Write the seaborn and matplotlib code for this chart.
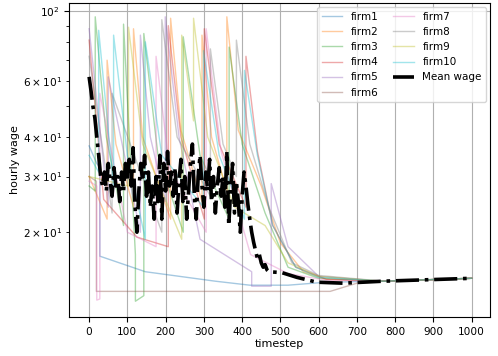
import numpy as np
import pandas as pd
import seaborn as sns
import matplotlib.pyplot as plt
from matplotlib.lines import Line2D

# firm wage paths as (timestep, wage) vertices
firm1_t = [0, 20, 28, 28, 147, 330, 420, 520, 620, 770, 1000]
firm1_w = [37.5, 33, 32, 16.8, 15.0, 14.0, 13.6, 13.6, 13.9, 14.0, 14.3]

firm2_t = [0, 47, 47, 70, 116, 116, 140, 213, 213, 240, 295, 295, 320, 360, 360, 390, 450, 500, 560, 620, 770, 1000]
firm2_w = [30, 22, 70, 38, 24, 88, 40, 22, 95, 42, 25, 84, 40, 27, 96, 42, 28, 18.5, 15, 14.2, 14.0, 14.3]

firm3_t = [0, 16, 16, 45, 90, 90, 121, 121, 143, 143, 180, 246, 246, 290, 366, 366, 400, 460, 520, 600, 770, 1000]
firm3_w = [28, 27, 96, 40, 21, 91, 17, 12.1, 12.6, 85, 35, 20, 83, 35, 22, 77, 38, 23, 15.5, 14.3, 14.0, 14.3]

firm4_t = [0, 38, 125, 207, 207, 240, 301, 301, 340, 410, 410, 440, 480, 540, 620, 770, 1000]
firm4_w = [81, 25.4, 19.3, 18.0, 90, 40, 22, 88, 38, 24, 72, 36, 21, 15.5, 14.2, 14.0, 14.3]

firm5_t = [0, 50, 50, 134, 134, 160, 199, 199, 235, 290, 425, 425, 476, 476, 520, 600, 770, 1000]
firm5_w = [88, 24, 62, 20, 84, 40, 25, 96, 40, 19, 15, 13.5, 13.5, 28.5, 18, 14.5, 14.0, 14.3]

firm6_t = [0, 19, 19, 630, 700, 770, 1000]
firm6_w = [30, 29, 13.0, 13.0, 13.8, 14.0, 14.3]

firm7_t = [0, 20, 20, 28, 28, 100, 175, 175, 210, 306, 306, 345, 422, 520, 620, 770, 1000]
firm7_w = [29, 28, 12.2, 12.3, 55, 20, 18, 72, 32, 20, 88, 36, 17, 14.8, 14.1, 14.0, 14.3]

firm8_t = [0, 60, 60, 190, 190, 230, 317, 317, 350, 385, 385, 420, 470, 530, 600, 770, 1000]
firm8_w = [72, 23, 55, 20, 94, 40, 26, 76, 38, 30, 81, 38, 24, 16, 14.6, 14.0, 14.3]

firm9_t = [0, 103, 103, 140, 242, 242, 273, 273, 310, 380, 460, 520, 600, 770, 1000]
firm9_w = [30, 28, 89, 38, 19, 84, 45, 95, 40, 24, 21, 16, 14.5, 14.0, 14.3]

firm10_t = [0, 25, 25, 64, 64, 100, 147, 147, 190, 299, 299, 340, 406, 406, 440, 480, 540, 600, 770, 1000]
firm10_w = [35, 31, 87, 28, 84, 35, 19, 80, 35, 24, 75, 35, 22, 65, 35, 21, 15.5, 14.4, 14.0, 14.3]

# mean wage, every 5 steps up to 470 then a few points on the tail
mean_t = list(range(0, 475, 5)) + [504, 543, 595, 664, 768, 1000]
mean_w = [62, 56, 50, 46, 40, 35, 30,
          28, 31, 27, 33, 29, 26, 32, 28, 30, 25, 31, 27, 33, 29,
          34, 28, 37, 24, 20, 27,
          33, 29, 35, 26, 31, 24, 28, 22,
          30, 25, 35, 22, 33, 27, 36, 28, 31,
          26, 32, 23, 29, 34, 25, 30, 22, 27,
          33, 38, 26, 22, 30, 35, 28, 24,
          31, 27, 34, 25, 30, 23, 28, 32, 26,
          30, 24, 36, 21, 27, 33, 23, 29, 25, 20, 26,
          31, 28, 24.5, 22, 20, 18.6, 17.5, 16.5, 17, 16, 15.5, 15.8, 15.2, 15.0,
          14.9, 14.4, 13.9, 13.8, 14.0, 14.3]

firms = ['firm1', 'firm2', 'firm3', 'firm4', 'firm5',
         'firm6', 'firm7', 'firm8', 'firm9', 'firm10']
paths = [(firm1_t, firm1_w), (firm2_t, firm2_w), (firm3_t, firm3_w),
         (firm4_t, firm4_w), (firm5_t, firm5_w), (firm6_t, firm6_w),
         (firm7_t, firm7_w), (firm8_t, firm8_w), (firm9_t, firm9_w),
         (firm10_t, firm10_w)]

frames = []
for name, (t, w) in zip(firms, paths):
    frames.append(pd.DataFrame({'t': t, 'wage': w, 'firm': name}))
df = pd.concat(frames, ignore_index=True)

palette = sns.color_palette('tab10', 10)

fig, ax = plt.subplots(figsize=(4.98, 3.56), dpi=100)
fig.subplots_adjust(left=0.139, right=0.984, top=0.991, bottom=0.11)

sns.lineplot(data=df, x='t', y='wage', hue='firm', hue_order=firms,
             palette=palette, estimator=None, sort=False, alpha=0.4,
             linewidth=1, legend=False, ax=ax)
sns.lineplot(x=mean_t, y=mean_w, color='black', linestyle='-.',
             linewidth=2.6, estimator=None, sort=False, ax=ax)

ax.set_yscale('log')
ax.set_ylim(10.8, 106)
ax.set_xlim(-52, 1048)
ax.set_xticks(range(0, 1001, 100))
ax.grid(True, color='#b0b0b0', linewidth=0.8)
ax.set_xlabel('timestep', fontsize=8, labelpad=2)
ax.set_ylabel('hourly wage', fontsize=8, labelpad=2)
ax.tick_params(labelsize=7.6, which='both')

handles = [Line2D([], [], color=c, alpha=0.4, lw=1) for c in palette]
handles.append(Line2D([], [], color='black', linestyle='-.', lw=2.6))
ax.legend(handles, firms + ['Mean wage'], ncol=2, loc='upper right',
          fontsize=7.5, borderaxespad=0.4, labelspacing=0.5, columnspacing=1.4)

plt.savefig('out.png', dpi=100)
